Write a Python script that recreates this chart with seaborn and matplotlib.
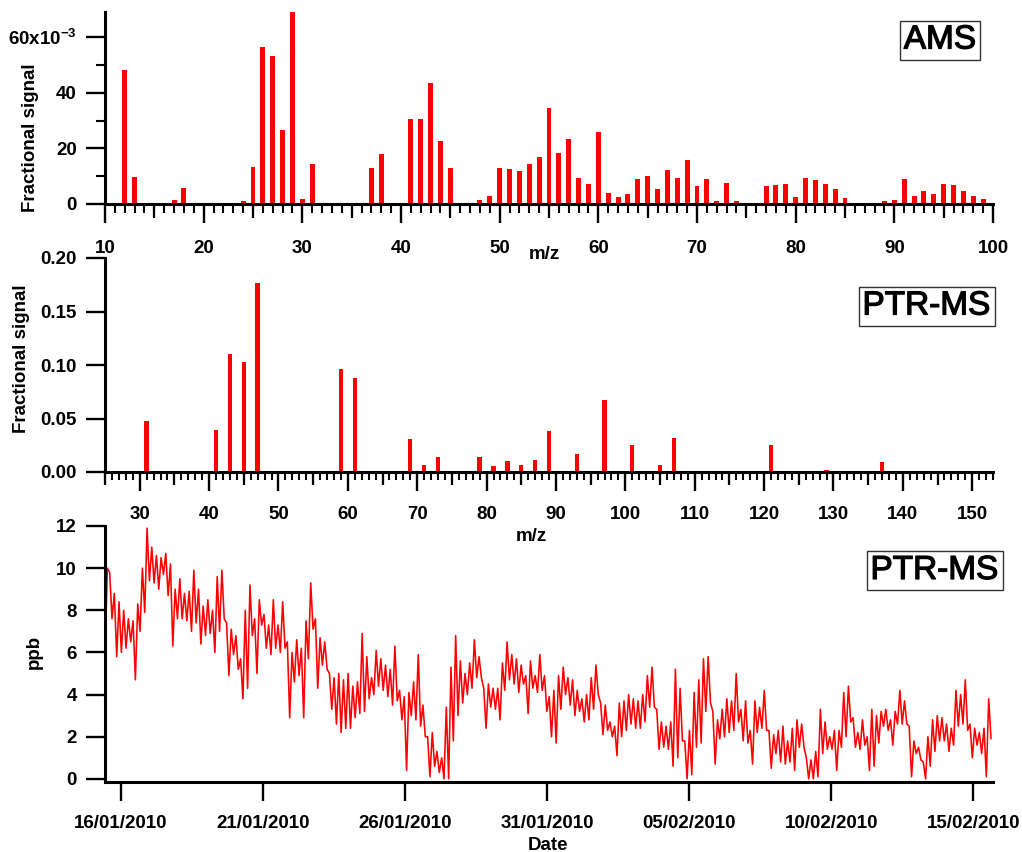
import numpy as np
import pandas as pd
import matplotlib
matplotlib.use("Agg")
import matplotlib.pyplot as plt
import matplotlib.patheffects as pe
from matplotlib.ticker import MultipleLocator, FuncFormatter, FixedLocator, NullLocator
import seaborn as sns

# ---------------- data ----------------
ams_mz = list(range(12, 101))
ams_signal_e3 = [
    48.0, 9.7, 0.0, 0.2, 0.5, 1.3, 5.9, 0.0, 0.0, 0.0,      # 12-21
    0.0, 0.0, 1.0, 13.3, 56.4, 53.3, 26.7, 70.0, 1.7, 14.4,  # 22-31
    0.0, 0.0, 0.0, 0.0, 0.0, 12.8, 17.8, 0.0, 0.0, 30.7,     # 32-41
    30.7, 43.4, 22.5, 12.8, 0.0, 0.0, 1.3, 2.9, 12.9, 12.5,  # 42-51
    11.9, 14.4, 16.8, 34.5, 18.2, 23.4, 9.3, 7.2, 26.0, 4.0, # 52-61
    2.4, 3.6, 9.0, 10.2, 5.5, 12.1, 9.3, 15.9, 6.3, 9.0,     # 62-71
    1.0, 7.4, 1.0, 0.2, 0.1, 6.3, 6.8, 7.2, 2.5, 9.3,        # 72-81
    8.6, 7.2, 5.5, 2.0, 0.1, 0.1, 0.1, 1.0, 1.4, 9.0,        # 82-91
    2.9, 4.8, 3.7, 7.2, 6.8, 4.8, 2.9, 1.8, 0.1,             # 92-100
]

ptr_mz = [31, 41, 43, 45, 47, 59, 61, 69, 71, 73, 77, 79, 81, 83, 85, 87,
          89, 93, 97, 101, 105, 107, 121, 129, 137, 151, 153]
ptr_signal = [0.048, 0.039, 0.110, 0.103, 0.177, 0.0966, 0.0875, 0.031, 0.0069,
              0.0138, 0.001, 0.0138, 0.0056, 0.010, 0.0069, 0.011, 0.038, 0.017,
              0.067, 0.025, 0.0069, 0.032, 0.025, 0.002, 0.0097, 0.0005, 0.0005]

ts_start = "2010-01-15 10:45"
ts_end = "2010-02-15 14:55"
ppb = [
    5.8, 10.0, 9.8, 7.6, 8.8, 5.8, 8.4, 6.0, 8.0, 6.2, 7.6, 6.5, 7.5, 4.7, 8.3, 7.0,
    10.0, 7.9, 11.9, 9.4, 11.0, 9.3, 10.6, 9.0, 10.5, 9.7, 10.7, 8.7, 10.2, 6.3,
    9.0, 7.6, 9.5, 7.6, 8.8, 7.5, 8.9, 7.0, 9.9, 7.4, 9.0, 6.4, 8.2, 6.8, 8.5, 6.9,
    8.0, 6.0, 9.6, 7.0, 9.9, 7.6, 7.4, 4.9, 7.1, 5.9, 6.8, 5.2, 5.7, 3.8, 8.0, 4.3,
    9.2, 6.8, 7.6, 5.0, 8.5, 7.3, 7.8, 6.2, 7.3, 5.9, 8.5, 6.2, 7.3, 6.0,
    8.4, 6.2, 6.5, 2.9, 6.0, 4.6, 6.6, 4.9, 6.2, 2.9, 7.5, 5.7, 9.3, 7.1, 7.6, 4.3,
    6.7, 5.4, 6.5, 5.2, 5.0, 3.3, 4.8, 2.6, 5.0, 2.2, 4.7, 2.4, 5.0, 2.4, 4.4, 2.9,
    4.6, 3.1, 6.9, 3.2, 5.8, 3.8, 4.8, 4.0, 6.1, 4.4, 5.7, 4.2, 5.4, 3.9, 5.2, 3.5,
    6.3, 3.7, 4.2, 2.8, 3.9, 0.4, 4.1, 3.0, 4.6, 2.8, 5.9, 2.5, 3.5, 2.0, 2.0, 0.1,
    2.2, 0.6, 1.3, 0.3, 1.0, 0.0, 3.4, 0.0, 5.3, 1.8, 6.8, 3.0,
    5.6, 3.6, 5.0, 4.0, 5.5, 4.3, 6.6, 4.8, 5.8, 4.8, 4.3, 2.4, 4.5, 3.4, 4.3, 3.3,
    4.3, 2.8, 5.5, 4.2, 6.5, 4.7, 5.9, 4.5, 5.7, 4.1, 5.4, 4.5, 4.9, 3.1, 5.6, 4.3,
    4.9, 4.1, 5.9, 4.2, 4.9, 3.2, 3.9, 2.0, 4.2, 1.7, 4.9, 3.3, 5.3, 4.0, 4.8, 3.5,
    4.7, 3.0, 4.2, 3.2, 3.8, 2.7, 4.0, 2.8, 4.8, 3.3, 5.4, 4.0, 3.6, 2.1, 3.5, 2.3,
    2.7, 2.0, 2.5, 1.1, 3.6, 2.0, 3.7, 2.3, 4.0, 2.6, 3.8, 2.4,
    3.7, 2.4, 4.0, 2.7, 4.9, 3.4, 5.3, 3.4, 3.3, 1.4, 2.7, 1.5, 2.5, 1.4, 2.7, 0.6,
    5.2, 1.0, 4.3, 1.8, 1.8, 0.0, 2.3, 0.2, 4.1, 1.5, 4.7, 1.7, 5.7, 3.2, 5.8, 3.6,
    3.2, 0.7, 2.8, 1.9, 3.3, 2.0, 3.8, 2.2, 3.7, 2.3, 5.0, 2.7, 3.3, 1.8, 3.7, 1.7,
    2.3, 0.7, 3.7, 2.2, 3.4, 2.4, 4.2, 2.3, 2.3, 0.5, 2.1, 1.2, 2.3, 0.8, 2.5, 0.7,
    1.8, 0.8, 2.4, 0.4, 2.8, 1.5, 2.6, 1.5, 1.0, 0.0, 0.9, 0.0,
    1.3, 0.1, 3.3, 1.2, 2.7, 1.4, 2.0, 1.4, 2.3, 0.4, 2.3, 1.5, 4.1, 2.0, 4.4, 2.7,
    2.9, 1.5, 2.2, 1.4, 2.8, 1.6, 2.0, 0.4, 3.3, 0.6, 3.0, 1.7, 3.2, 2.5, 3.3, 2.3,
    2.8, 1.6, 3.2, 2.6, 4.2, 2.6, 3.7, 2.6, 2.5, 0.1, 1.8, 1.2, 1.5, 0.9, 0.8, 0.0,
    2.0, 0.6, 2.8, 1.3, 3.0, 1.8, 2.9, 1.8, 2.6, 1.3, 2.4, 1.6, 4.2, 2.5, 4.0, 2.6,
    4.7, 2.3, 2.6, 1.0, 2.4, 1.6, 2.2, 1.2, 2.4, 0.1, 3.8, 1.9,
]

date_ticks = ["2010-01-16", "2010-01-21", "2010-01-26", "2010-01-31",
              "2010-02-05", "2010-02-10", "2010-02-15"]
date_tick_labels = ["16/01/2010", "21/01/2010", "26/01/2010", "31/01/2010",
                    "05/02/2010", "10/02/2010", "15/02/2010"]

# ---------------- style ----------------
sns.set_theme(style="ticks", rc={
    "text.color": "black", "axes.labelcolor": "black",
    "xtick.color": "black", "ytick.color": "black",
    "axes.edgecolor": "black",
})
plt.rcParams['font.family'] = ['Liberation Sans', 'DejaVu Sans']
plt.rcParams['font.weight'] = 'bold'
plt.rcParams['axes.labelweight'] = 'bold'
plt.rcParams['mathtext.fontset'] = 'custom'
plt.rcParams['mathtext.rm'] = 'Liberation Sans:bold'
plt.rcParams['mathtext.bf'] = 'Liberation Sans:bold'
plt.rcParams['mathtext.it'] = 'Liberation Sans:bold'

W, H = 1022, 852
fig = plt.figure(figsize=(W / 100, H / 100), dpi=100)
fig.patch.set_facecolor('white')


def axes_px(l, t, r, b):
    return fig.add_axes([l / W, 1 - b / H, (r - l) / W, (b - t) / H])


ax1 = axes_px(105, 12, 993, 204)
ax2 = axes_px(105, 258, 993, 472)
ax3 = axes_px(105, 526, 993, 782)

FS = 13.5
RED = '#ff0000'

# ---------------- AMS bars ----------------
ams_df = pd.DataFrame({"mz": ams_mz, "signal": np.array(ams_signal_e3) * 1e-3})
sns.barplot(data=ams_df, x="mz", y="signal", native_scale=True, color=RED,
            saturation=1, width=0.5, errorbar=None, linewidth=0, ax=ax1)

# ---------------- PTR-MS bars ----------------
ptr_df = pd.DataFrame({"mz": ptr_mz, "signal": ptr_signal})
sns.barplot(data=ptr_df, x="mz", y="signal", native_scale=True, color=RED,
            saturation=1, width=0.31, errorbar=None, linewidth=0, ax=ax2)

# ---------------- time series ----------------
times = pd.date_range(ts_start, ts_end, periods=len(ppb))
ts_df = pd.DataFrame({"time": times, "ppb": ppb})
sns.lineplot(data=ts_df, x="time", y="ppb", color=RED, linewidth=1.15,
             estimator=None, ax=ax3)

# ---------------- axes formatting ----------------
for ax in (ax1, ax2, ax3):
    sns.despine(ax=ax)
    for s in ("left", "bottom"):
        ax.spines[s].set_linewidth(2.2)
        ax.spines[s].set_color('black')
    ax.tick_params(axis='both', which='major', length=13.7, width=1.7,
                   color='black', labelcolor='black', labelsize=FS, direction='out')
    ax.tick_params(axis='y', which='major', pad=6.5)
    ax.set_facecolor('none')

# AMS
ax1.set_xlim(10, 100)
ax1.set_ylim(0, 0.069)
ax1.xaxis.set_major_locator(MultipleLocator(10))
ax1.xaxis.set_minor_locator(MultipleLocator(1))
ax1.yaxis.set_major_locator(FixedLocator([0, 0.02, 0.04, 0.06]))
ax1.yaxis.set_minor_locator(FixedLocator([0.01, 0.03, 0.05]))


def ams_fmt(v, pos):
    k = int(round(v * 1000))
    if k == 60:
        return r'60x10$^{-3}$'
    return str(k)


ax1.yaxis.set_major_formatter(FuncFormatter(ams_fmt))
ax1.xaxis.set_major_formatter(FuncFormatter(lambda v, p: f"{int(round(v))}"))
ax1.tick_params(axis='x', which='major', pad=12)
ax1.tick_params(axis='both', which='minor', length=6.5, width=1.5, color='black')
sec1 = ax1.secondary_xaxis('bottom')
sec1.set_xticks(np.arange(15, 100, 10))
sec1.xaxis.set_minor_locator(NullLocator())
sec1.tick_params(length=10, width=1.6, color='black', labelbottom=False)
sec1.spines['bottom'].set_visible(False)

# PTR-MS
ax2.set_xlim(25, 153)
ax2.set_ylim(0, 0.2)
ax2.xaxis.set_major_locator(MultipleLocator(10))
ax2.xaxis.set_minor_locator(MultipleLocator(1))
ax2.yaxis.set_major_locator(MultipleLocator(0.05))
ax2.yaxis.set_major_formatter(FuncFormatter(lambda v, p: f"{v:.2f}"))
ax2.xaxis.set_major_formatter(FuncFormatter(lambda v, p: f"{int(round(v))}"))
ax2.tick_params(axis='x', which='major', pad=11)
ax2.tick_params(axis='x', which='minor', length=6, width=1.5, color='black')
sec2 = ax2.secondary_xaxis('bottom')
sec2.set_xticks(np.arange(25, 150, 10))
sec2.xaxis.set_minor_locator(NullLocator())
sec2.tick_params(length=9.5, width=1.6, color='black', labelbottom=False)
sec2.spines['bottom'].set_visible(False)

# time series
ax3.set_xlim(pd.Timestamp("2010-01-15 10:45"), pd.Timestamp("2010-02-15 16:35"))
ax3.set_ylim(-0.15, 12)
ax3.yaxis.set_major_locator(MultipleLocator(2))
ax3.set_xticks(pd.to_datetime(date_ticks))
ax3.set_xticklabels(date_tick_labels)
ax3.xaxis.set_minor_locator(NullLocator())
ax3.tick_params(axis='x', which='major', pad=10)

# ---------------- labels ----------------
def place_xlabel(ax, text, xc, yb):
    ax.set_xlabel(text, fontsize=FS, fontweight='bold', color='black')
    ax.xaxis.set_label_coords(xc / W, 1 - yb / H, transform=fig.transFigure)
    ax.xaxis.label.set_verticalalignment('baseline')


def place_ylabel(ax, text, xc, yc):
    ax.set_ylabel(text, fontsize=FS, fontweight='bold', color='black')
    ax.yaxis.set_label_coords(xc / W, 1 - yc / H, transform=fig.transFigure)
    ax.yaxis.label.set_verticalalignment('center')
    ax.yaxis.label.set_horizontalalignment('center')


place_xlabel(ax1, "m/z", 544, 259)
place_xlabel(ax2, "m/z", 531, 541)
place_xlabel(ax3, "Date", 548, 850)
place_ylabel(ax1, "Fractional signal", 31, 138)
place_ylabel(ax2, "Fractional signal", 22, 359)
place_ylabel(ax3, "ppb", 34, 652)

box = dict(boxstyle='square,pad=0.12', facecolor='white', edgecolor='#333333', linewidth=1.0)
for txt, xc, yc in (("AMS", 940, 40), ("PTR-MS", 926.5, 306), ("PTR-MS", 934.5, 570.5)):
    t = fig.text(xc / W, 1 - yc / H, txt, ha='center', va='center', fontsize=24,
                 fontweight='normal', color='black', bbox=box)
    t.set_path_effects([pe.withStroke(linewidth=0.9, foreground='black')])

fig.savefig("out.png", dpi=100, facecolor='white')
